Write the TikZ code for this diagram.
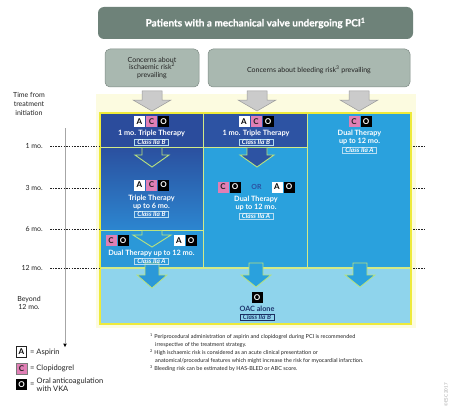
\documentclass[tikz,border=0pt]{standalone}
\usepackage{fontspec}
\setmainfont{Lato}
\newfontfamily\heavyfont{Lato}[UprightFont={* Bold}, FakeBold=0.8]
\definecolor{titlegray}{HTML}{6E8279}
\definecolor{subgray}{HTML}{A9B8B0}
\definecolor{subgrayd}{HTML}{7F8C86}
\definecolor{arrgray}{HTML}{CBCBCB}
\definecolor{arrgrayd}{HTML}{9A9A9A}
\definecolor{navyA}{HTML}{2B4C9C}
\definecolor{navyB}{HTML}{2D53A3}
\definecolor{midA}{HTML}{2C86D0}
\definecolor{blueA}{HTML}{2B98D8}
\definecolor{blueB}{HTML}{2AA1DD}
\definecolor{lightB}{HTML}{8FD4EC}
\definecolor{ybord}{HTML}{EEEA3A}
\definecolor{yglow}{HTML}{FCFBE0}
\definecolor{divline}{HTML}{D3EA86}
\definecolor{lgreen}{HTML}{B9E27E}
\definecolor{pinkC}{HTML}{E07FB5}
\definecolor{clsb}{HTML}{B6DDF2}
\definecolor{darktxt}{HTML}{222222}
\definecolor{ortxt}{HTML}{2A4FA0}
\newcommand{\blkarrow}[7][]{%
  \path[#1] ({#2-#6},#3) -- ({#2+#6},#3) -- ({#2+#6},#4) -- ({#2+#7},#4) -- (#2,#5) -- ({#2-#7},#4) -- ({#2-#6},#4) -- cycle;}
\tikzset{
  badge/.style={minimum size=11pt, inner sep=0pt, font=\fontsize{8}{8}\selectfont\bfseries},
  bA/.style={badge, fill=white, text=black},
  bC/.style={badge, fill=pinkC, text=darktxt},
  bO/.style={badge, fill=black, text=white},
  wtxt/.style={text=white, font=\fontsize{7.3}{8}\selectfont\bfseries, align=center, inner sep=0pt},
  classbox/.style={draw=clsb, line width=0.5pt, inner ysep=0.6pt, inner xsep=3pt, text=white, font=\fontsize{6.5}{6.5}\selectfont\bfseries\itshape},
  timelbl/.style={text=darktxt, font=\fontsize{7}{8}\selectfont, inner sep=0pt},
  dashln/.style={darktxt, line width=0.6pt, dash pattern=on 1.5pt off 1.2pt},
  foot/.style={text=darktxt, font=\fontsize{5.5}{6}\selectfont, anchor=west, inner sep=0pt},
  legtxt/.style={text=darktxt, font=\fontsize{7.5}{7.5}\selectfont, anchor=west, inner sep=0pt},
}
\begin{document}
\begin{tikzpicture}[x=1pt,y=-1pt]
\useasboundingbox[fill=white] (0,0) rectangle (458,412);

% header boxes
\node (title) [fill=titlegray, rounded corners=6pt, minimum width=315pt, minimum height=32pt, text=white, font=\fontsize{10}{10}\selectfont\heavyfont] at (255.5,23) {Patients with a mechanical valve undergoing PCI\textsuperscript{1}};
\node (isch) [fill=subgray, draw=subgrayd, line width=0.5pt, rounded corners=5pt, minimum width=94pt, minimum height=38pt, text=darktxt, font=\fontsize{7}{7.6}\selectfont, align=center] at (152,68) {Concerns about\\ischaemic risk\textsuperscript{2}\\prevailing};
\node (bleed) [fill=subgray, draw=subgrayd, line width=0.5pt, rounded corners=5pt, minimum width=202pt, minimum height=38pt, text=darktxt, font=\fontsize{7}{7.6}\selectfont, text depth=0pt] at (309,68) {\raisebox{-2.5pt}{Concerns about bleeding risk\textsuperscript{3} prevailing}};

% glow band
\fill[yglow] (96,94) rectangle (416,328);

% gray arrows
\blkarrow[fill=arrgray, draw=arrgrayd, line width=0.5pt]{152}{91}{100}{111}{10}{19}
\blkarrow[fill=arrgray, draw=arrgrayd, line width=0.5pt]{257}{91}{100}{111}{10}{19}
\blkarrow[fill=arrgray, draw=arrgrayd, line width=0.5pt]{359}{91}{100}{111}{10}{19}

% panels
\fill[navyA] (100,113) rectangle (203.5,147);
\shade[top color=navyA!95!blueA, bottom color=midA] (100,147) rectangle (203.5,230);
\fill[blueA] (100,230) rectangle (203.5,268);
\fill[navyB] (203.5,113) rectangle (307.5,147);
\fill[blueB] (203.5,147) rectangle (307.5,268);
\fill[blueB] (307.5,113) rectangle (411,268);
\fill[lightB] (100,268) rectangle (411,324);

% divider lines
\draw[divline, line width=1.2pt] (203.5,113) -- (203.5,268);
\draw[divline, line width=1.2pt] (307.5,113) -- (307.5,268);
\draw[divline, line width=1pt] (100,147) -- (307.5,147);
\draw[divline, line width=1pt] (100,230) -- (203.5,230);
\draw[divline, line width=1.2pt] (100,268) -- (411,268);

% inner arrows
\blkarrow[draw=lgreen, line width=0.9pt]{152}{147.5}{155}{167}{10}{17}
\blkarrow[draw=lgreen, line width=0.9pt]{152}{230.5}{235}{247}{10}{19}
\blkarrow[fill=navyB, draw=lgreen, line width=0.9pt]{257}{147.5}{155}{167}{10}{17}
\blkarrow[fill=blueA, draw=lgreen, line width=0.8pt]{152}{263}{275}{288}{7}{15}
\blkarrow[fill=blueB, draw=lgreen, line width=0.8pt]{256}{263}{275}{287}{7}{15}
\blkarrow[fill=blueB, draw=lgreen, line width=0.8pt]{360}{263}{275}{287}{7}{15}

% outer border
\draw[ybord, line width=2.2pt] (100,113) rectangle (411,324);

% column 1
\node (c1a) [bA] at (139.5,121.5) {A};
\node (c1c) [bC] at (151.5,121.5) {C};
\node (c1o) [bO] at (163.5,121.5) {O};
\node (c1t) [wtxt] at (151.5,133.5) {1 mo. Triple Therapy};
\node (c1k) [classbox] at (151.5,142) {Class IIa B};

\node (c2a) [bA] at (139.5,185) {A};
\node (c2c) [bC] at (151.5,185) {C};
\node (c2o) [bO] at (163.5,185) {O};
\node (c2t) [wtxt] at (151.5,198) {Triple Therapy};
\node (c2u) [wtxt] at (151.5,206) {up to 6 mo.};
\node (c2k) [classbox] at (151.5,214.5) {Class IIa B};

\node (c3c) [bC] at (111,240.5) {C};
\node (c3o) [bO] at (123,240.5) {O};
\node (c3a) [bA] at (179,240.5) {A};
\node (c3p) [bO] at (191,240.5) {O};
\node (c3t) [wtxt] at (151.5,253) {Dual Therapy up to 12 mo.};
\node (c3k) [classbox] at (151.5,261.5) {Class IIa A};

% column 2
\node (d1a) [bA] at (244,121.5) {A};
\node (d1c) [bC] at (256,121.5) {C};
\node (d1o) [bO] at (268,121.5) {O};
\node (d1t) [wtxt] at (256,133.5) {1 mo. Triple Therapy};
\node (d1k) [classbox] at (256,142) {Class IIa B};

\node (d2c) [bC] at (223,187) {C};
\node (d2o) [bO] at (235,187) {O};
\node (d2or) [text=ortxt, font=\fontsize{7}{7}\selectfont\bfseries] at (256.5,187) {OR};
\node (d2a) [bA] at (277,187) {A};
\node (d2p) [bO] at (289,187) {O};
\node (d2t) [wtxt] at (256,199.5) {Dual Therapy};
\node (d2u) [wtxt] at (256,207.5) {up to 12 mo.};
\node (d2k) [classbox] at (256,216) {Class IIa A};

% column 3
\node (e1c) [bC] at (354,121.5) {C};
\node (e1o) [bO] at (366,121.5) {O};
\node (e1t) [wtxt] at (359.5,133.5) {Dual Therapy};
\node (e1u) [wtxt] at (359.5,141.5) {up to 12 mo.};
\node (e1k) [classbox] at (359.5,150) {Class IIa A};

% beyond
\node (fo) [bO] at (257,297.5) {O};
\node (ft) [text=navyA!70!black, font=\fontsize{7.3}{8}\selectfont\bfseries, inner sep=0pt] at (257,308.5) {OAC alone};
\node (fk) [classbox, draw=navyA!60!black, text=navyA!70!black] at (257,317) {Class IIa B};

% time axis
\node (tft) [timelbl, align=center, font=\fontsize{7}{8.6}\selectfont] at (29,104) {Time from\\treatment\\initiation};
\coordinate (axtop) at (65,128);
\coordinate (axend) at (65,343);
\draw[gray!70, line width=1pt] (axtop) -- (axend);
\fill[black] (63.2,343.5) -- (66.8,343.5) -- (65,347) -- cycle;

\node (t1) [timelbl, anchor=east] at (43,146.5) {1 mo.};
\node (t3) [timelbl, anchor=east] at (43,188) {3 mo.};
\node (t6) [timelbl, anchor=east] at (43,229.5) {6 mo.};
\node (t12) [timelbl, anchor=east] at (43,268) {12 mo.};
\node (tb) [timelbl, align=center] at (29,303) {Beyond\\12 mo.};

\foreach \yy in {146.5,188,229.5,268}{
  \draw[dashln] (50,\yy) -- (99,\yy);
  \draw[dashln] (413,\yy) -- (425,\yy);
}

% legend
\node (la) [bA, draw=darktxt, line width=0.6pt, minimum size=10.5pt] at (21.5,352) {A};
\node (lat) [legtxt] at (30,352) {= Aspirin};
\node (lc) [bC, draw=darktxt!60, line width=0.4pt, minimum size=10.5pt] at (21.5,368.5) {C};
\node (lct) [legtxt] at (30,368.5) {= Clopidogrel};
\node (lo) [bO, minimum size=11pt] at (21.5,384.5) {O};
\node (loq) [legtxt] at (30,385) {=};
\node (lot) [legtxt] at (36.5,381.3) {Oral anticoagulation};
\node (lot2) [legtxt] at (36.5,389) {with VKA};

% footnotes
\node (f1) [foot] at (150,337) {\textsuperscript{1} Periprocedural administration of aspirin and clopidogrel during PCI is recommended};
\node (f1b) [foot] at (155,344.5) {irrespective of the treatment strategy.};
\node (f2) [foot] at (150,353) {\textsuperscript{2} High ischaemic risk is considered as an acute clinical presentation or};
\node (f2b) [foot] at (155,360.5) {anatomical/procedural features which might increase the risk for myocardial infarction.};
\node (f3) [foot] at (150,369) {\textsuperscript{3} Bleeding risk can be estimated by HAS-BLED or ABC score.};

\node (esc) [rotate=90, text=gray!70, font=\fontsize{4.5}{5}\selectfont, inner sep=0pt] at (446,395) {\copyright ESC 2017};
\end{tikzpicture}
\end{document}
